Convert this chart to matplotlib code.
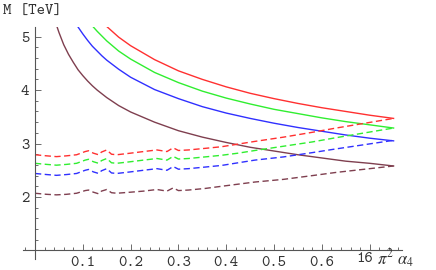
import os
import matplotlib
matplotlib.use("Agg")
import matplotlib.pyplot as plt
from matplotlib.font_manager import FontProperties
from matplotlib.ticker import MultipleLocator, FixedLocator

# solid curves
red_a = [0.14, 0.15, 0.175, 0.2, 0.25, 0.3, 0.35, 0.4, 0.45, 0.5, 0.55, 0.6, 0.65, 0.7, 0.75]
red_m = [5.28, 5.19, 4.99, 4.83, 4.57, 4.36, 4.20, 4.06, 3.94, 3.84, 3.75, 3.67, 3.60, 3.53, 3.47]

green_a = [0.11, 0.12, 0.13, 0.14, 0.15, 0.175, 0.2, 0.25, 0.3, 0.35, 0.4, 0.45, 0.5, 0.55, 0.6, 0.65, 0.7, 0.75]
green_m = [5.32, 5.20, 5.10, 5.01, 4.92, 4.73, 4.58, 4.33, 4.14, 3.98, 3.85, 3.74, 3.64, 3.56, 3.48, 3.41, 3.35, 3.29]

blue_a = [0.08, 0.09, 0.1, 0.11, 0.12, 0.13, 0.14, 0.15, 0.175, 0.2, 0.25, 0.3, 0.35, 0.4, 0.45, 0.5, 0.55, 0.6, 0.65, 0.7, 0.75]
blue_m = [5.34, 5.18, 5.05, 4.93, 4.82, 4.73, 4.64, 4.56, 4.39, 4.24, 4.01, 3.84, 3.69, 3.57, 3.47, 3.38, 3.30, 3.23, 3.16, 3.10, 3.05]

brown_a = [0.044, 0.05, 0.06, 0.07, 0.08, 0.09, 0.1, 0.11, 0.12, 0.13, 0.14, 0.15, 0.175, 0.2, 0.25, 0.3, 0.35, 0.4, 0.45, 0.5, 0.55, 0.6, 0.65, 0.7, 0.75]
brown_m = [5.24, 5.08, 4.85, 4.67, 4.52, 4.38, 4.27, 4.17, 4.08, 4.00, 3.93, 3.86, 3.71, 3.59, 3.40, 3.24, 3.12, 3.02, 2.93, 2.86, 2.79, 2.73, 2.67, 2.63, 2.58]

# dashed curves
dash_a = [0, 0.024, 0.045, 0.066, 0.087, 0.105, 0.112, 0.122, 0.133, 0.139, 0.15, 0.16, 0.171,
          0.2, 0.227, 0.255, 0.276, 0.289, 0.30, 0.321, 0.356, 0.39, 0.425, 0.46, 0.52, 0.58,
          0.63, 0.69, 0.75]
red_d = [2.79, 2.77, 2.755, 2.77, 2.79, 2.85, 2.865, 2.82, 2.79, 2.84, 2.88, 2.80, 2.79,
         2.82, 2.85, 2.88, 2.85, 2.92, 2.87, 2.88, 2.91, 2.94, 2.99, 3.04, 3.12, 3.21,
         3.29, 3.38, 3.47]
green_d = [2.63, 2.61, 2.595, 2.61, 2.63, 2.69, 2.705, 2.66, 2.63, 2.68, 2.72, 2.64, 2.63,
           2.66, 2.69, 2.72, 2.69, 2.76, 2.71, 2.72, 2.75, 2.78, 2.82, 2.87, 2.95, 3.03,
           3.11, 3.20, 3.29]
blue_d = [2.44, 2.42, 2.405, 2.42, 2.44, 2.50, 2.515, 2.47, 2.44, 2.49, 2.53, 2.45, 2.44,
          2.47, 2.50, 2.53, 2.50, 2.57, 2.52, 2.53, 2.56, 2.59, 2.64, 2.69, 2.75, 2.83,
          2.90, 2.98, 3.06]
brown_d = [2.07, 2.05, 2.04, 2.05, 2.07, 2.12, 2.13, 2.09, 2.06, 2.11, 2.14, 2.08, 2.07,
           2.09, 2.11, 2.14, 2.11, 2.17, 2.12, 2.13, 2.16, 2.20, 2.24, 2.28, 2.33, 2.40,
           2.46, 2.52, 2.58]

x_ticks = [0.1, 0.2, 0.3, 0.4, 0.5, 0.6, 0.7]
x_labels = ["0.1", "0.2", "0.3", "0.4", "0.5", "0.6", ""]
y_ticks = [2, 3, 4, 5]
y_labels = ["2", "3", "4", "5"]

RED, GREEN, BLUE, BROWN = "#ff3030", "#30ee30", "#3030ff", "#7f3f4f"
TXT = "#333333"
# Courier-like typewriter face shipped with matplotlib
tt = FontProperties(fname=os.path.join(matplotlib.get_data_path(), "fonts/ttf/cmtt10.ttf"),
                    size=11.5)
plt.rcParams["mathtext.fontset"] = "stix"

fig = plt.figure(figsize=(4.36, 2.70), dpi=100)
ax = fig.add_axes([23.3 / 436, 11 / 270, 378.4 / 436, 232 / 270])

for a, m, c in [(red_a, red_m, RED), (green_a, green_m, GREEN),
                (blue_a, blue_m, BLUE), (brown_a, brown_m, BROWN)]:
    ax.plot(a, m, color=c, lw=1.0)
for d, c in [(red_d, RED), (green_d, GREEN), (blue_d, BLUE), (brown_d, BROWN)]:
    ax.plot(dash_a, d, color=c, lw=1.0, dashes=(4.5, 2.5))

ax.set_xlim(-0.0245, 0.767)
ax.set_ylim(0.84, 5.18)

# Mathematica style axes crossing at (0, 1)
for s in ["top", "right"]:
    ax.spines[s].set_visible(False)
ax.spines["left"].set_position(("data", 0))
ax.spines["bottom"].set_position(("data", 1))
for s in ["left", "bottom"]:
    ax.spines[s].set_color("#555555")
    ax.spines[s].set_linewidth(0.8)

ax.xaxis.set_major_locator(FixedLocator(x_ticks))
ax.set_xticklabels(x_labels, fontproperties=tt, color=TXT)
ax.xaxis.set_minor_locator(MultipleLocator(0.02))
ax.yaxis.set_major_locator(FixedLocator(y_ticks))
ax.set_yticklabels(y_labels, fontproperties=tt, color=TXT)
ax.yaxis.set_minor_locator(MultipleLocator(0.2))
ax.tick_params(which="both", direction="in", color="#555555", width=0.6)
ax.tick_params(which="major", length=4, pad=4)
ax.tick_params(which="minor", length=2)

fig.text(3 / 436, 1 - 12 / 270, "M [TeV]", fontproperties=tt,
         va="center", ha="left", color=TXT)
fig.text(356 / 436, 1 - 259 / 270, "16", fontproperties=tt,
         va="center", ha="left", color=TXT)
fig.text(377 / 436, 1 - 259 / 270, r"$\pi^2\ \alpha_4$", fontsize=12,
         va="center", ha="left", color=TXT)

fig.savefig("out.png", dpi=100)
